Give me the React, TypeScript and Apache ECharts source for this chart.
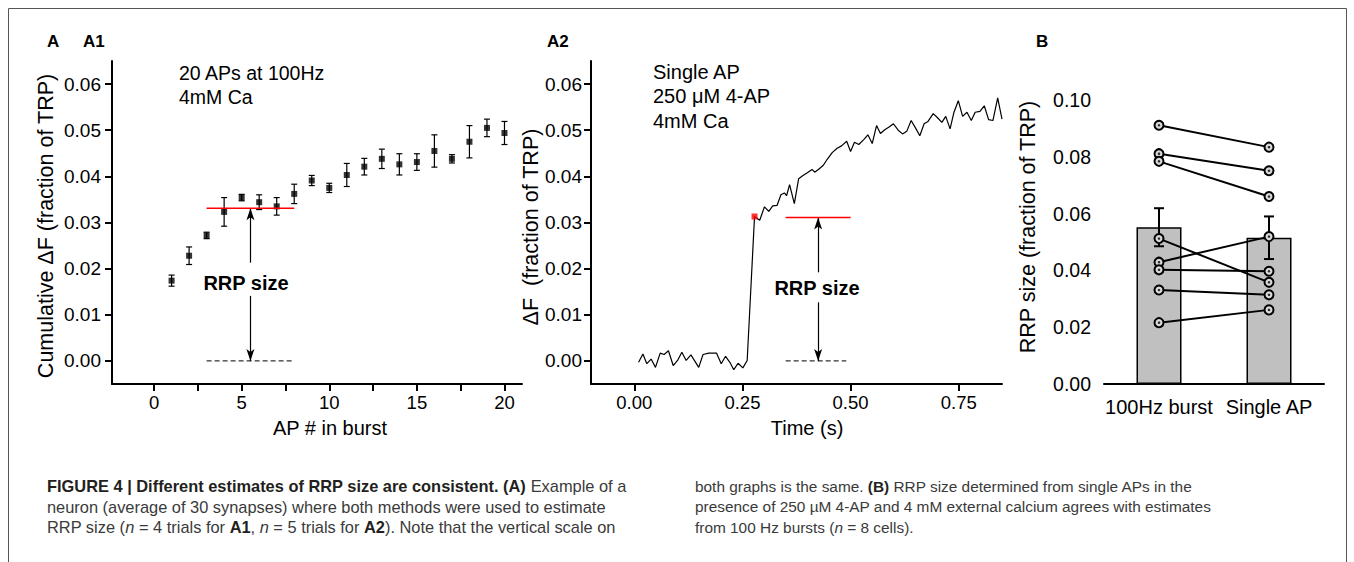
import React, { useEffect, useRef } from "react";
import * as echarts from "echarts";

// ---------- Panel A1: cumulative ΔF during 20 APs at 100 Hz ----------
const apNumber = [1, 2, 3, 4, 5, 6, 7, 8, 9, 10, 11, 12, 13, 14, 15, 16, 17, 18, 19, 20];
const cumulativeDF = [0.0174, 0.0228, 0.0272, 0.0323, 0.0354, 0.0344, 0.0335, 0.0362, 0.0391, 0.0375,
  0.0403, 0.0421, 0.0438, 0.0426, 0.0431, 0.0455, 0.0438, 0.0475, 0.0505, 0.0494];
const cumulativeErr = [0.0012, 0.0019, 0.0007, 0.0031, 0.0007, 0.0016, 0.0019, 0.0021, 0.0011, 0.0010,
  0.0025, 0.0018, 0.0021, 0.0023, 0.0018, 0.0035, 0.0009, 0.0035, 0.0019, 0.0025];
const a1RRPLevel = 0.0331;
const a1MarkerRange = [3, 8];
const a1ArrowX = 5.5;
const a1ArrowGap = [0.0141, 0.0213];
const a1XTicks = [0, 2.5, 5, 7.5, 10, 12.5, 15, 17.5, 20];
const a1XLabels = [0, 5, 10, 15, 20];
const aYTicks = [0, 0.01, 0.02, 0.03, 0.04, 0.05, 0.06];

// ---------- Panel A2: single AP trace ----------
const traceTime = [0.010, 0.020, 0.029, 0.039, 0.049, 0.060, 0.069, 0.079, 0.090, 0.100, 0.110, 0.120,
  0.131, 0.149, 0.159, 0.172, 0.190, 0.201, 0.211, 0.221, 0.230, 0.240, 0.251, 0.261, 0.278, 0.290,
  0.301, 0.311, 0.320, 0.330, 0.339, 0.347, 0.352, 0.359, 0.370, 0.380, 0.390, 0.400, 0.411, 0.417,
  0.427, 0.437, 0.446, 0.458, 0.469, 0.479, 0.491, 0.500, 0.509, 0.519, 0.531, 0.540, 0.550, 0.560,
  0.569, 0.579, 0.589, 0.599, 0.610, 0.620, 0.630, 0.640, 0.650, 0.660, 0.670, 0.679, 0.691, 0.701,
  0.711, 0.720, 0.730, 0.739, 0.749, 0.759, 0.769, 0.779, 0.788, 0.799, 0.809, 0.819, 0.829, 0.840, 0.850];
const traceDF = [-0.0003, 0.0015, -0.0006, 0.0004, -0.0014, 0.0017, 0.0014, 0.0022, -0.0010, 0.0001, 0.0019, 0.0001,
  0.0013, -0.0014, 0.0014, 0.0017, 0.0017, -0.0006, 0.0010, -0.0003, -0.0019, -0.0005, -0.0015, 0.0001, 0.0313, 0.0305,
  0.0334, 0.0324, 0.0336, 0.0337, 0.0360, 0.0364, 0.0358, 0.0382, 0.0341, 0.0395, 0.0402, 0.0408, 0.0415, 0.0409,
  0.0416, 0.0424, 0.0437, 0.0452, 0.0461, 0.0466, 0.0476, 0.0454, 0.0474, 0.0469, 0.0480, 0.0490, 0.0471, 0.0510,
  0.0493, 0.0501, 0.0507, 0.0514, 0.0500, 0.0492, 0.0498, 0.0521, 0.0505, 0.0488, 0.0514, 0.0519, 0.0536, 0.0527,
  0.0517, 0.0530, 0.0503, 0.0539, 0.0564, 0.0530, 0.0539, 0.0521, 0.0539, 0.0541, 0.0553, 0.0523, 0.0521, 0.0570, 0.0524];
const peakPoint = [0.278, 0.0313];
const a2RRPLevel = 0.0311;
const a2RedRange = [0.35, 0.5];
const a2DashRange = [0.35, 0.49];
const a2ArrowX = 0.425;
const a2ArrowGap = [0.0127, 0.0192];
const a2XTicks = [0, 0.25, 0.5, 0.75];

// ---------- Panel B: RRP size per cell ----------
const conditions = ["100Hz burst", "Single AP"];
const barMean = [0.0552, 0.0515];
const barErr = [0.0067, 0.0075];
const burstRRP = [0.0911, 0.0811, 0.0784, 0.0512, 0.0429, 0.0402, 0.0331, 0.0216];
const singleRRP = [0.0834, 0.0751, 0.0660, 0.0358, 0.0519, 0.0397, 0.0314, 0.0261];

const captionLeft = [
  "{b|FIGURE 4 | Different estimates of RRP size are consistent. (A)} Example of a",
  "neuron (average of 30 synapses) where both methods were used to estimate",
  "RRP size ({i|n} = 4 trials for {b|A1}, {i|n} = 5 trials for {b|A2}). Note that the vertical scale on",
];
const captionRight = [
  "both graphs is the same. {b|(B)} RRP size determined from single APs in the",
  "presence of 250 µM 4-AP and 4 mM external calcium agrees with estimates",
  "from 100 Hz bursts ({i|n} = 8 cells).",
];

const FONT = "'Liberation Sans', Arial, Helvetica, sans-serif";

function errorBarRenderer(capHalf: number, lw: number) {
  return (params: any, api: any) => {
    const x = api.value(0);
    const lo = api.coord([x, api.value(1)]);
    const hi = api.coord([x, api.value(2)]);
    const st = { stroke: "#000", lineWidth: lw };
    return {
      type: "group",
      children: [
        { type: "line", shape: { x1: lo[0], y1: lo[1], x2: hi[0], y2: hi[1] }, style: st },
        { type: "line", shape: { x1: lo[0] - capHalf, y1: lo[1], x2: lo[0] + capHalf, y2: lo[1] }, style: st },
        { type: "line", shape: { x1: hi[0] - capHalf, y1: hi[1], x2: hi[0] + capHalf, y2: hi[1] }, style: st },
      ],
    };
  };
}

function axisBase(extra: any) {
  return {
    axisLine: { onZero: false, lineStyle: { color: "#000", width: 2 } },
    axisTick: { inside: false, length: 7, lineStyle: { color: "#000", width: 2 } },
    splitLine: { show: false },
    ...extra,
  };
}

function arrowMarkLine(x: number, top: number, gap: number[]) {
  return {
    silent: true,
    animation: false,
    label: { show: false },
    lineStyle: { color: "#000", width: 1.2, type: "solid" },
    symbolSize: [6, 12],
    data: [
      [{ coord: [x, top], symbol: "arrow" }, { coord: [x, gap[1]], symbol: "none" }],
      [{ coord: [x, gap[0]], symbol: "none" }, { coord: [x, 0], symbol: "arrow" }],
    ],
  };
}

function captionLines(lines: string[], x: number, size: number) {
  return lines.map((t, k) => ({
    type: "text",
    x,
    y: 486 + k * 20.5,
    style: {
      text: t, fontFamily: FONT, fontSize: size, fill: "#3a3a3a", verticalAlign: "middle",
      rich: {
        b: { fontFamily: FONT, fontSize: size, fontWeight: "bold", fill: "#231f20" },
        i: { fontFamily: FONT, fontSize: size, fontStyle: "italic", fill: "#3a3a3a" },
      },
    },
  }));
}

export default function App() {
  const ref = useRef<HTMLDivElement>(null);

  useEffect(() => {
    if (!ref.current) return;
    const chart = echarts.init(ref.current, undefined, { renderer: "svg" });

    const a1Points = apNumber.map((x, i) => [x, cumulativeDF[i]]);
    const a1Err = apNumber.map((x, i) => [x, cumulativeDF[i] - cumulativeErr[i], cumulativeDF[i] + cumulativeErr[i]]);
    const trace = traceTime.map((t, i) => [t, traceDF[i]]);
    const bErr = conditions.map((c, i) => [i, barMean[i] - barErr[i], barMean[i] + barErr[i]]);

    const pairSeries = burstRRP.map((v, i) => ({
      type: "line",
      xAxisIndex: 2,
      yAxisIndex: 2,
      data: [v, singleRRP[i]],
      symbol: "circle",
      symbolSize: 9,
      lineStyle: { color: "#000", width: 2 },
      itemStyle: { color: "#d9d9d9", borderColor: "#000", borderWidth: 2 },
      z: 5,
    }));
    const dotData: any[] = [];
    burstRRP.forEach((v) => dotData.push([conditions[0], v]));
    singleRRP.forEach((v) => dotData.push([conditions[1], v]));

    const tickLabel = { color: "#000", fontFamily: FONT };

    const option: any = {
      animation: false,
      textStyle: { fontFamily: FONT },
      grid: [
        { left: 112, top: 61, width: 410, height: 323 },
        { left: 591, top: 61, width: 411, height: 323 },
        { left: 1104, top: 100, width: 220, height: 284 },
      ],
      xAxis: [
        axisBase({
          type: "value", gridIndex: 0, min: -2.4, max: 21,
          axisTick: { length: 7, lineStyle: { color: "#000", width: 2 }, customValues: a1XTicks },
          axisLabel: { ...tickLabel, fontSize: 18.5, margin: 9, customValues: a1XLabels, formatter: (v: number) => String(v) },
        }),
        axisBase({
          type: "value", gridIndex: 1, min: -0.1, max: 0.85,
          axisTick: { length: 7, lineStyle: { color: "#000", width: 2 }, customValues: a2XTicks },
          axisLabel: { ...tickLabel, fontSize: 18.5, margin: 9, customValues: a2XTicks, formatter: (v: number) => v.toFixed(2) },
        }),
        axisBase({
          type: "category", gridIndex: 2, data: conditions,
          axisLabel: { ...tickLabel, fontSize: 20, margin: 13, interval: 0, hideOverlap: false },
        }),
      ],
      yAxis: [
        axisBase({
          type: "value", gridIndex: 0, min: -0.005, max: 0.065,
          axisTick: { length: 7, lineStyle: { color: "#000", width: 2 }, customValues: aYTicks },
          axisLabel: { ...tickLabel, fontSize: 19, margin: 11, customValues: aYTicks, formatter: (v: number) => v.toFixed(2) },
        }),
        axisBase({
          type: "value", gridIndex: 1, min: -0.005, max: 0.065,
          axisTick: { length: 7, lineStyle: { color: "#000", width: 2 }, customValues: aYTicks },
          axisLabel: { ...tickLabel, fontSize: 19, margin: 9, customValues: aYTicks, formatter: (v: number) => v.toFixed(2) },
        }),
        axisBase({
          type: "value", gridIndex: 2, min: 0, max: 0.1, interval: 0.02,
          axisLabel: { ...tickLabel, fontSize: 19.5, margin: 13, formatter: (v: number) => v.toFixed(2) },
        }),
      ],
      series: [
        // A1
        {
          type: "custom", xAxisIndex: 0, yAxisIndex: 0, data: a1Err,
          encode: { x: 0, y: [1, 2] }, renderItem: errorBarRenderer(3, 1.2), z: 3,
        },
        {
          type: "scatter", xAxisIndex: 0, yAxisIndex: 0, data: a1Points,
          symbol: "rect", symbolSize: 6, itemStyle: { color: "#000" }, z: 4,
        },
        {
          type: "line", xAxisIndex: 0, yAxisIndex: 0, showSymbol: false, symbol: "none",
          data: [[a1MarkerRange[0], a1RRPLevel], [a1MarkerRange[1], a1RRPLevel]],
          lineStyle: { color: "#ff0000", width: 1.5 }, z: 5,
          markLine: arrowMarkLine(a1ArrowX, a1RRPLevel, a1ArrowGap),
        },
        {
          type: "line", xAxisIndex: 0, yAxisIndex: 0, showSymbol: false, symbol: "none",
          data: [[a1MarkerRange[0], 0], [a1MarkerRange[1], 0]],
          lineStyle: { color: "#333", width: 1.3, type: [5, 3] },
        },
        // A2
        {
          type: "line", xAxisIndex: 1, yAxisIndex: 1, data: trace, showSymbol: false, symbol: "none",
          lineStyle: { color: "#000", width: 1.2 }, z: 3,
        },
        {
          type: "scatter", xAxisIndex: 1, yAxisIndex: 1, data: [peakPoint],
          symbol: "rect", symbolSize: 6, itemStyle: { color: "#ff0000" }, z: 4,
        },
        {
          type: "line", xAxisIndex: 1, yAxisIndex: 1, showSymbol: false, symbol: "none",
          data: [[a2RedRange[0], a2RRPLevel], [a2RedRange[1], a2RRPLevel]],
          lineStyle: { color: "#ff0000", width: 1.5 }, z: 5,
          markLine: arrowMarkLine(a2ArrowX, a2RRPLevel, a2ArrowGap),
        },
        {
          type: "line", xAxisIndex: 1, yAxisIndex: 1, showSymbol: false, symbol: "none",
          data: [[a2DashRange[0], 0], [a2DashRange[1], 0]],
          lineStyle: { color: "#333", width: 1.3, type: [5, 3] },
        },
        // B
        {
          type: "bar", xAxisIndex: 2, yAxisIndex: 2, data: barMean, barWidth: 45,
          itemStyle: { color: "#c0c0c0", borderColor: "#000", borderWidth: 1.5 }, z: 2,
        },
        {
          type: "custom", xAxisIndex: 2, yAxisIndex: 2, data: bErr,
          encode: { x: 0, y: [1, 2] }, renderItem: errorBarRenderer(5, 2), z: 3,
        },
        ...pairSeries,
        {
          type: "scatter", xAxisIndex: 2, yAxisIndex: 2, data: dotData,
          symbol: "circle", symbolSize: 2.5, itemStyle: { color: "#000" }, z: 6,
        },
      ],
      graphic: [
        { type: "rect", shape: { x: 8.5, y: 8.5, width: 1338, height: 620 }, style: { fill: "none", stroke: "#555", lineWidth: 1 }, z: -1 },
        // panel labels
        { type: "text", x: 47, y: 41, style: { text: "A", font: `bold 17px ${FONT}`, fill: "#000", verticalAlign: "middle" } },
        { type: "text", x: 83, y: 41, style: { text: "A1", font: `bold 17px ${FONT}`, fill: "#000", verticalAlign: "middle" } },
        { type: "text", x: 547, y: 41, style: { text: "A2", font: `bold 17px ${FONT}`, fill: "#000", verticalAlign: "middle" } },
        { type: "text", x: 1036, y: 41, style: { text: "B", font: `bold 17px ${FONT}`, fill: "#000", verticalAlign: "middle" } },
        // annotations
        { type: "text", x: 179, y: 73, style: { text: "20 APs at 100Hz\n4mM Ca", font: `19.5px ${FONT}`, lineHeight: 24, fill: "#000", verticalAlign: "top", y: -12 } },
        { type: "text", x: 653, y: 72, style: { text: "Single AP\n250 μM 4-AP\n4mM Ca", font: `20px ${FONT}`, lineHeight: 24.3, fill: "#000", verticalAlign: "top", y: -12 } },
        { type: "text", x: 246, y: 283, style: { text: "RRP size", font: `bold 20px ${FONT}`, fill: "#000", align: "center", verticalAlign: "middle" } },
        { type: "text", x: 817, y: 288, style: { text: "RRP size", font: `bold 20px ${FONT}`, fill: "#000", align: "center", verticalAlign: "middle" } },
        // axis titles
        { type: "text", x: 330, y: 428, style: { text: "AP # in burst", font: `20px ${FONT}`, fill: "#000", align: "center", verticalAlign: "middle" } },
        { type: "text", x: 807, y: 428, style: { text: "Time (s)", font: `20px ${FONT}`, fill: "#000", align: "center", verticalAlign: "middle" } },
        { type: "text", x: 46, y: 226, rotation: Math.PI / 2, style: { text: "Cumulative ΔF (fraction of TRP)", font: `21.5px ${FONT}`, fill: "#000", align: "center", verticalAlign: "middle" } },
        { type: "text", x: 531, y: 227, rotation: Math.PI / 2, style: { text: "ΔF  (fraction of TRP)", font: `21.5px ${FONT}`, fill: "#000", align: "center", verticalAlign: "middle" } },
        { type: "text", x: 1028, y: 227, rotation: Math.PI / 2, style: { text: "RRP size (fraction of TRP)", font: `21.5px ${FONT}`, fill: "#000", align: "center", verticalAlign: "middle" } },
        // caption
        ...captionLines(captionLeft, 47, 16.4),
        ...captionLines(captionRight, 695, 15.4),
      ],
    };

    chart.setOption(option);
    return () => chart.dispose();
  }, []);

  return (
    <div
      ref={ref}
      style={{ position: "absolute", left: 0, top: 0, width: 1354, height: 562, background: "#fff" }}
    />
  );
}
